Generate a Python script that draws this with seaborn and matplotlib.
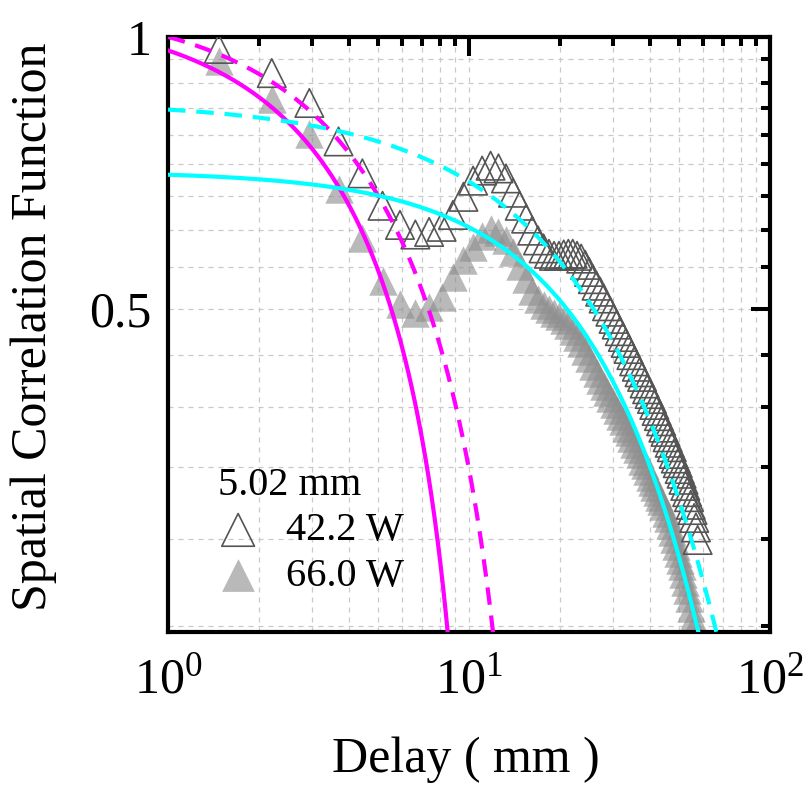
import numpy as np
import pandas as pd
import matplotlib
matplotlib.use("Agg")
import matplotlib.pyplot as plt
import seaborn as sns
from matplotlib.ticker import FixedLocator, FuncFormatter, LogLocator, NullFormatter

# Delay positions (mm) of the measured points
delay_mm = [
    1.474, 2.211, 2.948, 3.685, 4.422, 5.159, 5.896, 6.633, 7.370, 8.107,
    8.844, 9.581, 10.318, 11.055, 11.792, 12.529, 13.266, 14.003, 14.740, 15.477,
    16.214, 16.951, 17.688, 18.425, 19.162, 19.899, 20.636, 21.373, 22.110, 22.847,
    23.584, 24.321, 25.058, 25.795, 26.532, 27.269, 28.006, 28.743, 29.480, 30.217,
    30.954, 31.691, 32.428, 33.165, 33.902, 34.639, 35.376, 36.113, 36.850, 37.587,
    38.324, 39.061, 39.798, 40.535, 41.272, 42.009, 42.746, 43.483, 44.220, 44.957,
    45.694, 46.431, 47.168, 47.905, 48.642, 49.379, 50.116, 50.853, 51.590, 52.327,
    53.064, 53.801, 54.538, 55.275, 56.012, 56.749, 57.486,
]

# Spatial correlation, 42.2 W (open triangles)
corr_42w = [
    0.970, 0.912, 0.845, 0.766, 0.706, 0.650, 0.619, 0.604, 0.608, 0.616,
    0.635, 0.665, 0.693, 0.711, 0.720, 0.715, 0.697, 0.672, 0.650, 0.629,
    0.610, 0.595, 0.583, 0.575, 0.572, 0.572, 0.574, 0.575, 0.575, 0.572,
    0.568, 0.559, 0.549, 0.539, 0.530, 0.522, 0.513, 0.503, 0.496, 0.487,
    0.480, 0.472, 0.465, 0.458, 0.451, 0.444, 0.437, 0.431, 0.425, 0.420,
    0.413, 0.407, 0.402, 0.397, 0.391, 0.385, 0.380, 0.375, 0.369, 0.365,
    0.360, 0.355, 0.351, 0.345, 0.341, 0.337, 0.332, 0.328, 0.323, 0.318,
    0.313, 0.309, 0.303, 0.299, 0.293, 0.286, 0.277,
]

# Spatial correlation, 66.0 W (filled triangles)
corr_66w = [
    0.940, 0.853, 0.780, 0.678, 0.598, 0.537, 0.506, 0.494, 0.502, 0.515,
    0.542, 0.566, 0.585, 0.602, 0.613, 0.608, 0.595, 0.577, 0.558, 0.539,
    0.523, 0.513, 0.505, 0.500, 0.494, 0.491, 0.486, 0.480, 0.472, 0.465,
    0.458, 0.449, 0.441, 0.432, 0.424, 0.417, 0.410, 0.404, 0.398, 0.392,
    0.386, 0.380, 0.375, 0.369, 0.365, 0.359, 0.354, 0.349, 0.345, 0.339,
    0.335, 0.330, 0.325, 0.321, 0.317, 0.313, 0.309, 0.306, 0.302, 0.297,
    0.293, 0.288, 0.283, 0.278, 0.273, 0.268, 0.263, 0.259, 0.254, 0.249,
    0.244, 0.239, 0.233, 0.227, 0.222, 0.216, 0.210,
]

# Fit curves: C = A * exp(-(x / w) ** p) + B
fit_A = [4.485, 1.94, 0.71, 0.848]
fit_w = [40.0, 20.0, 50.5, 49.0]
fit_p = [1.0, 1.0, 1.2, 1.0]
fit_B = [-3.408, -0.845, 0.0, 0.0]
fit_color = ["#ff00ff", "#ff00ff", "#00ffff", "#00ffff"]
fit_dashed = [False, True, False, True]

sns.set_style("white")
plt.rcParams.update({
    "font.family": ["Liberation Serif", "DejaVu Serif"],
    "mathtext.fontset": "custom",
    "mathtext.rm": "Liberation Serif",
    "axes.linewidth": 3.0,
    "text.color": "black",
    "axes.labelcolor": "black",
    "xtick.color": "black",
    "ytick.color": "black",
    "axes.edgecolor": "black",
})

fig = plt.figure(figsize=(8.09, 7.92), dpi=100)
ax = fig.add_axes([0.2077, 0.202, 0.7441, 0.7513])
ax.set_axisbelow(True)

df = pd.DataFrame({"delay": delay_mm, "c42": corr_42w, "c66": corr_66w})

sns.scatterplot(data=df, x="delay", y="c66", ax=ax, marker="^", s=420,
                color="#8e8e8e", alpha=0.62, linewidth=0, zorder=2,
                label="66.0 W")
sns.scatterplot(data=df, x="delay", y="c42", ax=ax, marker="^", s=420,
                facecolor="none", edgecolor="#555555", linewidth=1.2,
                zorder=3, label="42.2 W")

xfit = np.geomspace(1.0, 100.0, 3000)
for A, w, p, B, col, dash in zip(fit_A, fit_w, fit_p, fit_B, fit_color, fit_dashed):
    cfit = A * np.exp(-(xfit / w) ** p) + B
    cfit = np.where(cfit > 1e-3, cfit, np.nan)
    ls = (0, (4.2, 2.6)) if dash else "-"
    sns.lineplot(x=xfit, y=cfit, ax=ax, color=col, linewidth=3.0,
                 linestyle=ls, estimator=None, sort=False, zorder=4)

ax.set_xscale("log")
ax.set_yscale("log")
ax.set_xlim(1, 100)
ax.set_ylim(0.219, 1.0)

ax.xaxis.set_major_locator(FixedLocator([1, 10, 100]))
ax.xaxis.set_minor_locator(LogLocator(base=10, subs=np.arange(2, 10)))
ax.xaxis.set_minor_formatter(NullFormatter())
ax.xaxis.set_major_formatter(FuncFormatter(
    lambda v, _: r"$\mathregular{10^{%d}}$" % int(round(np.log10(v)))))

yminor = [0.5 + k / 18 for k in range(-5, 9) if k != 0]
ax.yaxis.set_major_locator(FixedLocator([0.5, 1.0]))
ax.yaxis.set_minor_locator(FixedLocator(yminor))
ax.yaxis.set_minor_formatter(NullFormatter())
ax.yaxis.set_major_formatter(FuncFormatter(lambda v, _: "1" if v == 1 else "%g" % v))

ax.tick_params(which="both", direction="in", top=True, right=True,
               width=2.9, labelsize=36, color="black", labelcolor="black")
ax.tick_params(which="major", length=14, pad=12)
ax.tick_params(which="minor", length=6.5)
ax.tick_params(axis="x", which="major", pad=18)

ax.grid(which="both", linestyle=(0, (4, 4)), color="#c9c9c9", linewidth=0.9)
for sp in ax.spines.values():
    sp.set_color("black")
    sp.set_linewidth(3.0)

ax.set_xlabel("Delay ( mm )", fontsize=36, color="black")
ax.set_ylabel("Spatial Correlation Function", fontsize=36, color="black")
ax.xaxis.set_label_coords(0.495, -0.175)
ax.yaxis.set_label_coords(-0.185, 0.513)

handles, labels = ax.get_legend_handles_labels()
order = [labels.index("42.2 W"), labels.index("66.0 W")]
leg = ax.legend([handles[i] for i in order], [labels[i] for i in order],
                title="5.02 mm", loc="upper left", bbox_to_anchor=(0.083, 0.277),
                frameon=False, fontsize=29, title_fontsize=29, handlelength=1.0,
                handletextpad=0.7, labelspacing=0.2, borderpad=0, borderaxespad=0,
                markerscale=1.15, alignment="left", labelcolor="black")
leg.get_title().set_color("black")

fig.savefig("out.png", dpi=100)
